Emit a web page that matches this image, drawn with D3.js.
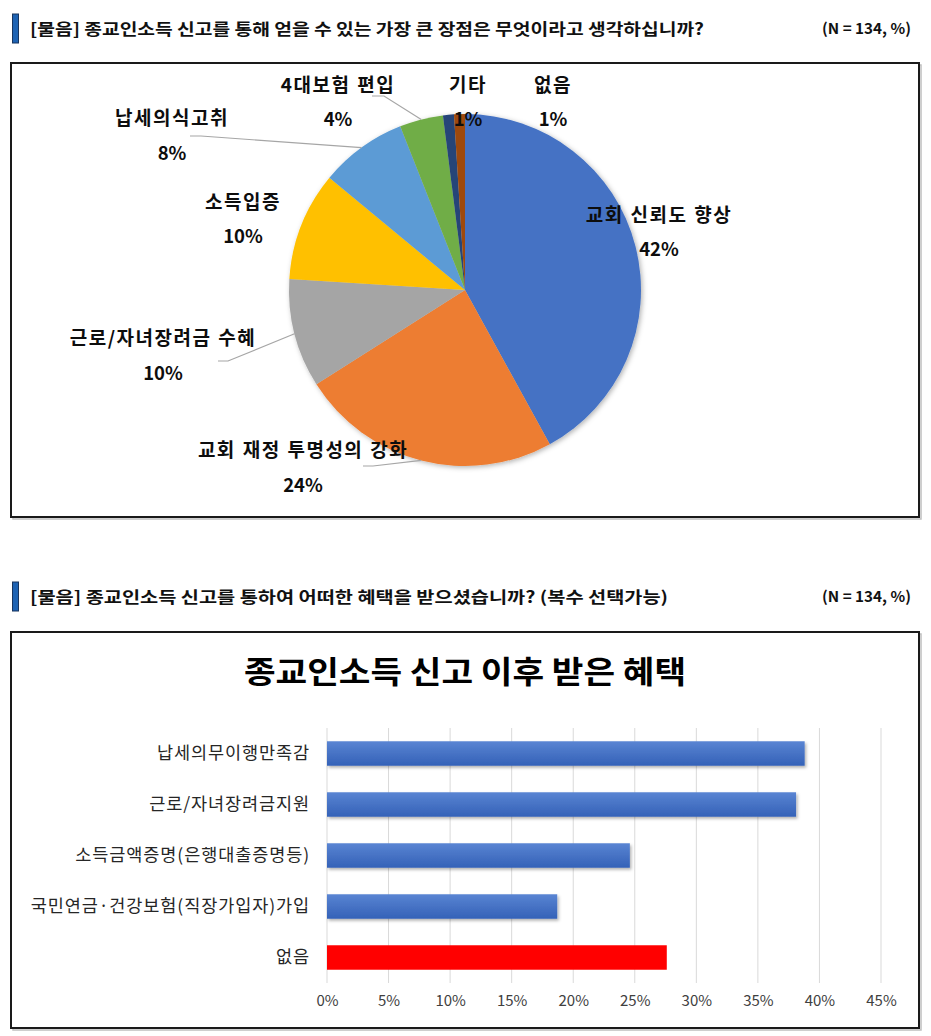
<!DOCTYPE html>
<html><head><meta charset="utf-8">
<script src="https://cdn.jsdelivr.net/npm/d3@7"></script>
<style>
body{margin:0;background:#fff}
svg{display:block}
text{font-family:"Noto Sans CJK KR","Noto Sans",sans-serif}
</style>
</head><body>
<script>
// ---------- DATA ----------
const headers = [
  "[물음] 종교인소득 신고를 통해 얻을 수 있는 가장 큰 장점은 무엇이라고 생각하십니까?",
  "[물음] 종교인소득 신고를 통하여 어떠한 혜택을 받으셨습니까? (복수 선택가능)"
];
const sampleNote = "(N = 134, %)";

const pieCategories = ["교회 신뢰도 향상","교회 재정 투명성의 강화","근로/자녀장려금 수혜","소득입증","납세의식고취","4대보험 편입","기타","없음"];
const pieValues = [42, 24, 10, 10, 8, 4, 1, 1];
const pieColors = ["#4472C4","#ED7D31","#A5A5A5","#FFC000","#5B9BD5","#70AD47","#264478","#9E480E"];

const barTitle = "종교인소득 신고 이후 받은 혜택";
const barCategories = ["납세의무이행만족감","근로/자녀장려금지원","소득금액증명(은행대출증명등)","국민연금·건강보험(직장가입자)가입","없음"];
const barValues = [38.8, 38.1, 24.6, 18.7, 27.6];
const barColors = ["blue","blue","blue","blue","red"];
const barTicks = [0, 5, 10, 15, 20, 25, 30, 35, 40, 45];

// ---------- LAYOUT ----------
const W = 931, H = 1036;
const svg = d3.select("body").append("svg").attr("width", W).attr("height", H);
const defs = svg.append("defs");

const sh = defs.append("filter").attr("id","pieShadow").attr("x","-20%").attr("y","-20%").attr("width","140%").attr("height","140%");
sh.append("feDropShadow").attr("dx",1.5).attr("dy",1.5).attr("stdDeviation",2.5).attr("flood-color","#000").attr("flood-opacity",0.3);
const bs = defs.append("filter").attr("id","barShadow").attr("x","-10%").attr("y","-30%").attr("width","120%").attr("height","180%");
bs.append("feDropShadow").attr("dx",1.5).attr("dy",2).attr("stdDeviation",1.5).attr("flood-color","#000").attr("flood-opacity",0.3);
const grad = defs.append("linearGradient").attr("id","blueGrad").attr("x1",0).attr("y1",0).attr("x2",0).attr("y2",1);
grad.append("stop").attr("offset","0%").attr("stop-color","#5a85d3");
grad.append("stop").attr("offset","45%").attr("stop-color","#4874c6");
grad.append("stop").attr("offset","100%").attr("stop-color","#3462b8");

// header rows
const headerY = [29, 597];
headerY.forEach((y, i) => {
  svg.append("rect").attr("x", 12.5).attr("y", y - 15).attr("width", 6).attr("height", 29)
    .attr("fill", "#1e63b3").attr("stroke", "#17355f").attr("stroke-width", 1);
  svg.append("text").attr("x", 30).attr("y", y + 6).attr("font-size", 16).attr("font-weight", 700)
    .attr("fill", "#111").attr("textLength", i === 0 ? 674 : 638).attr("lengthAdjust", "spacingAndGlyphs")
    .text(headers[i]);
  svg.append("text").attr("x", 822).attr("y", y + 5).attr("font-size", 15).attr("font-weight", 700)
    .attr("fill", "#111").attr("textLength", 89).attr("lengthAdjust", "spacingAndGlyphs")
    .text(sampleNote);
});

// boxes
[[11, 63, 908, 454], [11, 632, 908, 396]].forEach(b => {
  svg.append("rect").attr("x", b[0]+2).attr("y", b[1]+2).attr("width", b[2]).attr("height", b[3])
    .attr("fill", "none").attr("stroke", "#bfbfbf").attr("stroke-width", 1.5);
  svg.append("rect").attr("x", b[0]).attr("y", b[1]).attr("width", b[2]).attr("height", b[3])
    .attr("fill", "#fff").attr("stroke", "#1a1a1a").attr("stroke-width", 2);
});

// ---------- PIE ----------
const cx = 465, cy = 290, R = 176;
const pie = d3.pie().sort(null).value(d => d);
const arcs = pie(pieValues);
const arc = d3.arc().innerRadius(0).outerRadius(R);
const pg = svg.append("g").attr("transform", `translate(${cx},${cy})`);
pg.append("g").attr("filter", "url(#pieShadow)").selectAll("path").data(arcs).join("path")
  .attr("d", arc).attr("fill", (d, i) => pieColors[i]);

// label positions (layout only) : name center, percent center, optional leader start
const labelLayout = [
  {x: 659, y: 215, py: 250, lead: null},
  {x: 303, y: 450, py: 486, lead: [[363, 466], [373, 466]]},
  {x: 163, y: 338, py: 374, lead: [[218, 361], [228, 361]]},
  {x: 243, y: 202, py: 237, lead: null},
  {x: 172, y: 118, py: 154, lead: [[190, 136], [201, 136]]},
  {x: 338, y: 85, py: 120, lead: [[372, 96], [384, 96]]},
  {x: 468, y: 85, py: 120, lead: null},
  {x: 553, y: 85, py: 120, lead: null}
];
const lineGen = d3.line();
arcs.forEach((d, i) => {
  const L = labelLayout[i];
  if (L.lead) {
    const mid = (d.startAngle + d.endAngle) / 2;
    const edge = [cx + R * Math.sin(mid), cy - R * Math.cos(mid)];
    svg.append("path").attr("d", lineGen([...L.lead, edge]))
      .attr("fill", "none").attr("stroke", "#a6a6a6").attr("stroke-width", 1.2);
  }
});
arcs.forEach((d, i) => {
  const L = labelLayout[i];
  svg.append("text").attr("x", L.x).attr("y", L.y).attr("dy", "0.35em").attr("text-anchor", "middle")
    .attr("font-size", 19).attr("font-weight", 700).attr("fill", "#0d0d0d")
    .attr("letter-spacing", 1.5).attr("word-spacing", 1)
    .text(pieCategories[i]);
  svg.append("text").attr("x", L.x).attr("y", L.py).attr("dy", "0.35em").attr("text-anchor", "middle")
    .attr("font-size", 18.5).attr("font-weight", 700).attr("fill", "#0d0d0d")
    .text(pieValues[i] + "%");
});

// ---------- BAR ----------
svg.append("text").attr("x", 465).attr("y", 672).attr("dy", "0.35em").attr("text-anchor", "middle")
  .attr("font-size", 31).attr("font-weight", 700).attr("fill", "#000")
  .attr("textLength", 442).attr("lengthAdjust", "spacingAndGlyphs").text(barTitle);

const x = d3.scaleLinear().domain([0, 45]).range([327, 881]);
const y = d3.scaleBand().domain(barCategories).range([728, 983]).paddingInner(0.52).paddingOuter(0.26);

const grid = svg.append("g");
grid.selectAll("line").data(barTicks).join("line")
  .attr("x1", d => x(d)).attr("x2", d => x(d)).attr("y1", 728).attr("y2", 983)
  .attr("stroke", "#d9d9d9").attr("stroke-width", 1);

const xAxis = svg.append("g").attr("transform", "translate(0,995)")
  .call(d3.axisBottom(x).tickValues(barTicks).tickFormat(d => d + "%").tickSize(0).tickPadding(0));
xAxis.select(".domain").remove();
xAxis.selectAll("text").attr("font-size", 15).attr("fill", "#404040").attr("dy", "0.75em")
  .style("font-family", '"Noto Sans CJK KR","Noto Sans",sans-serif');

const yAxis = svg.append("g").attr("transform", "translate(310,0)")
  .call(d3.axisLeft(y).tickSize(0).tickPadding(0));
yAxis.select(".domain").remove();
yAxis.selectAll("text").attr("font-size", 17.5).attr("fill", "#262626").attr("letter-spacing", 0.9)
  .style("font-family", '"Noto Sans CJK KR","Noto Sans",sans-serif');

svg.append("g").selectAll("rect").data(barValues).join("rect")
  .attr("x", x(0)).attr("y", (d, i) => y(barCategories[i]))
  .attr("width", d => x(d) - x(0)).attr("height", y.bandwidth())
  .attr("fill", (d, i) => barColors[i] === "red" ? "#FF0000" : "url(#blueGrad)")
  .attr("filter", (d, i) => barColors[i] === "red" ? null : "url(#barShadow)");
</script>
</body></html>
